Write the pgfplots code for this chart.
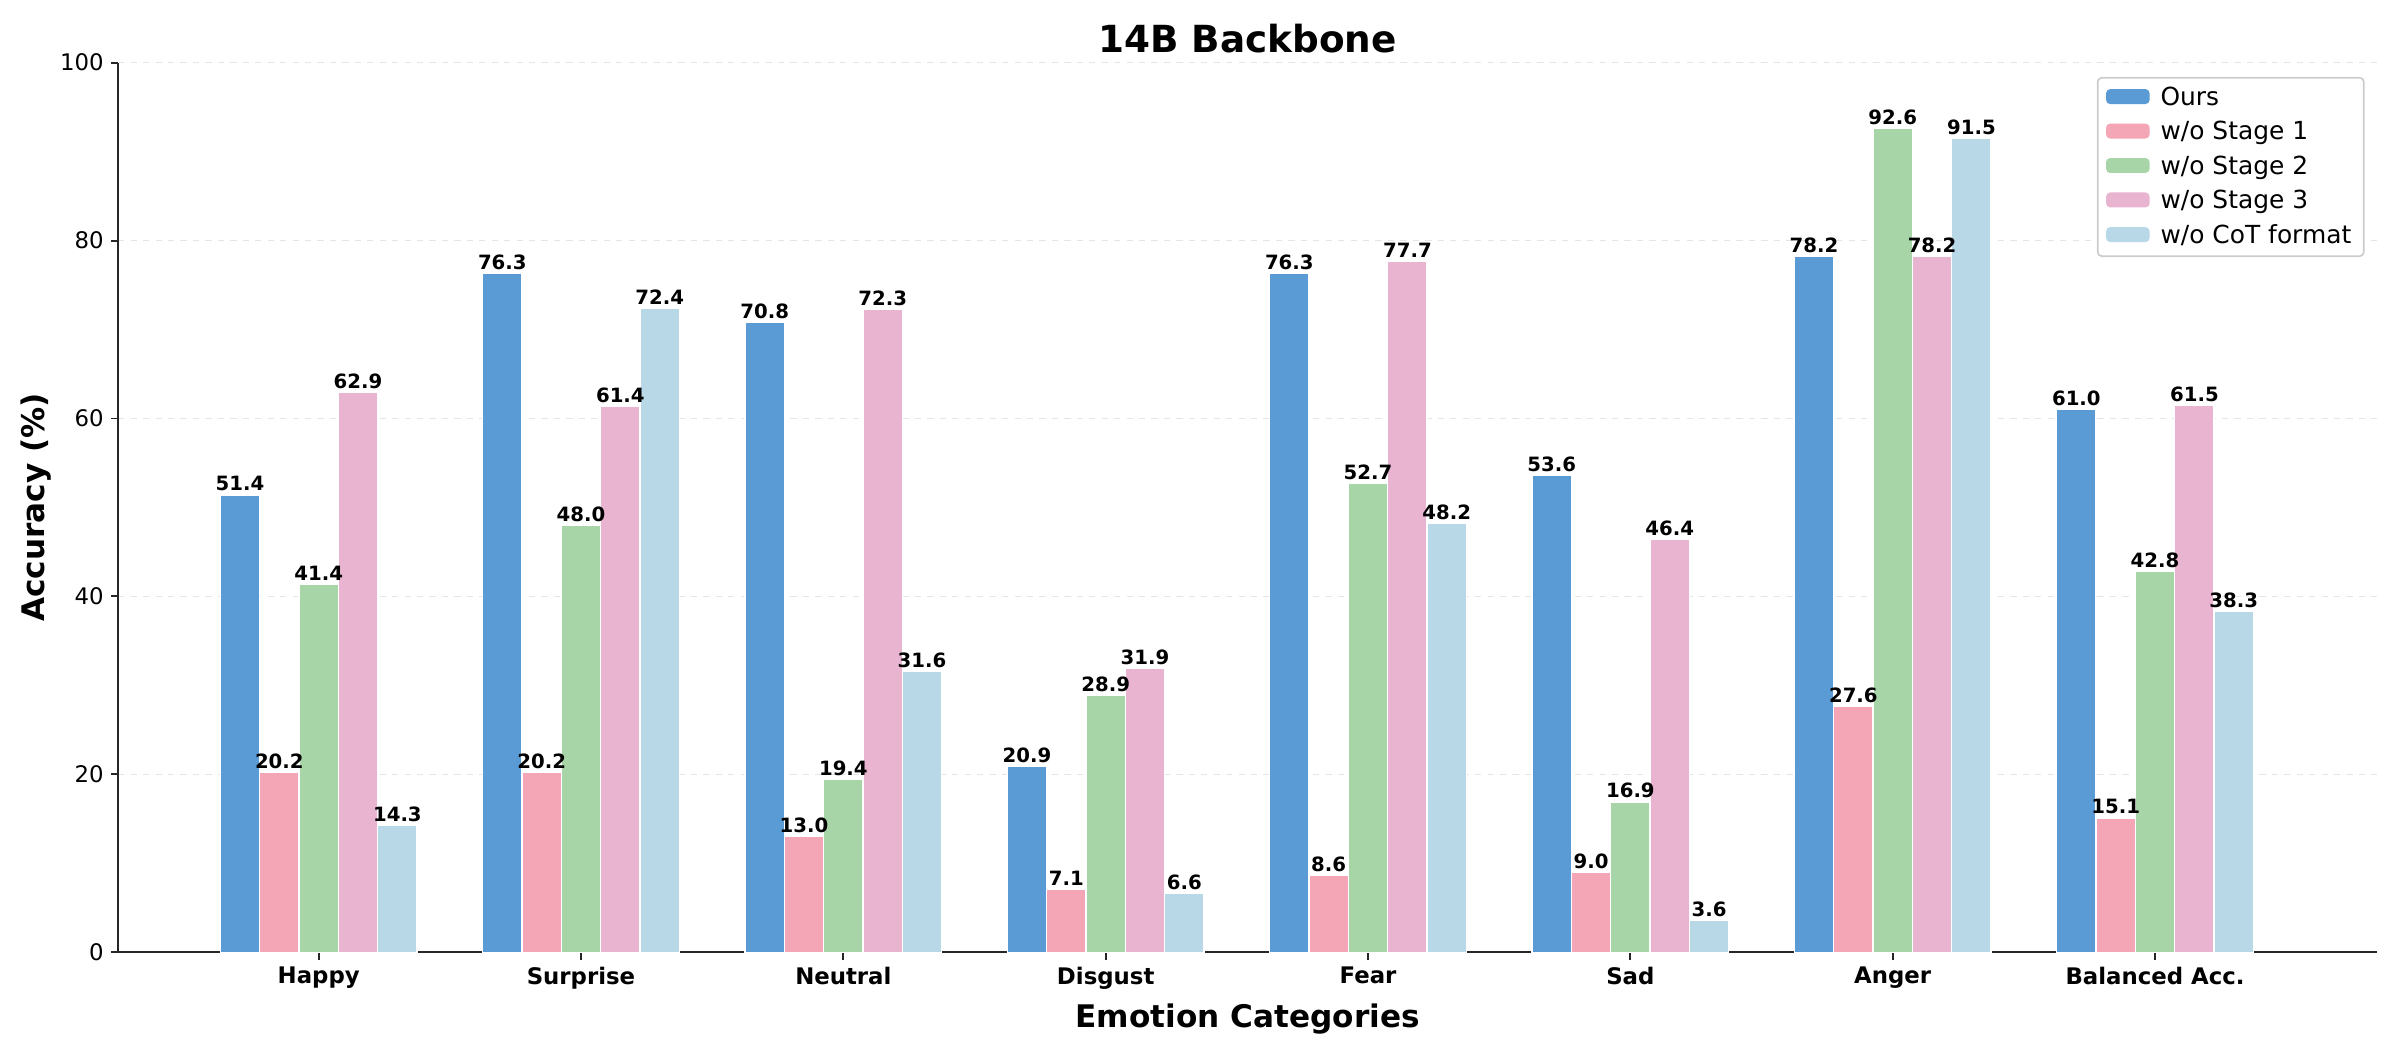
\documentclass[border=0pt]{standalone}
\usepackage{fontspec}
\setmainfont{DejaVu Sans}
\setsansfont{DejaVu Sans}
\usepackage{pgfplots}
\pgfplotsset{compat=1.18}
\definecolor{cOurs}{HTML}{5B9BD5}
\definecolor{cS1}{HTML}{F4A6B7}
\definecolor{cS2}{HTML}{A8D5A8}
\definecolor{cS3}{HTML}{E8B4D0}
\definecolor{cCoT}{HTML}{B8D8E8}
\definecolor{spine}{HTML}{262626}
\begin{document}
\begin{tikzpicture}
\begin{axis}[
  scale only axis,
  width=1088.7pt, height=428.8pt,
  xmin=-0.764, xmax=7.846,
  ymin=0, ymax=100,
  axis lines*=left,
  axis line style={spine, line width=0.9pt},
  xtick={0,1,2,3,4,5,6,7},
  xticklabels={Happy,Surprise,Neutral,Disgust,Fear,Sad,Anger,Balanced Acc.},
  xticklabel style={font=\fontsize{11}{13}\selectfont\bfseries},
  ytick={0,20,40,60,80,100},
  yticklabel style={font=\fontsize{11}{13}\selectfont},
  /pgf/number format/assume math mode=true,
  tick align=outside,
  major tick length=3.5pt,
  tick style={spine, line width=0.9pt},
  ymajorgrids,
  grid style={dashed, gray!20, line width=0.5pt},
  xlabel={Emotion Categories},
  ylabel={Accuracy (\%)},
  xlabel style={font=\fontsize{15}{18}\selectfont\bfseries},
  every axis y label/.style={at={(axis description cs:-0.0435,0.5)}, rotate=90, anchor=north, inner sep=0pt, font=\fontsize{15}{18}\selectfont\bfseries},
  every axis title/.style={at={(axis description cs:0.5,1)}, anchor=base, yshift=4.7pt, inner sep=0pt, font=\fontsize{18}{22}\selectfont\bfseries},
  title={14B Backbone},
  ybar,
  bar width=0.15,
  every axis plot/.append style={draw=white, line width=0.6pt},
  nodes near coords={\pgfmathprintnumber[fixed,fixed zerofill,precision=1]{\pgfplotspointmeta}},
  every node near coord/.append style={font=\fontsize{9.5}{11}\selectfont\bfseries, text=black, inner sep=1.5pt},
  legend style={at={(axis description cs:0.9945,0.984)}, anchor=north east, font=\fontsize{12}{14}\selectfont,
    draw=gray!40, rounded corners=2pt, line width=0.8pt, row sep=2.2pt, inner xsep=4pt, inner ysep=2.5pt},
  legend cell align=left,
  legend image code/.code={\fill[#1, draw=none] (0pt,-3.0pt) rectangle (21pt,4.2pt); \path (21pt,0pt) -- (24pt,0pt);},
]
\addplot[fill=cOurs, bar shift=-0.3] coordinates {(0,51.4)(1,76.3)(2,70.8)(3,20.9)(4,76.3)(5,53.6)(6,78.2)(7,61.0)};
\addplot[fill=cS1, bar shift=-0.15] coordinates {(0,20.2)(1,20.2)(2,13.0)(3,7.1)(4,8.6)(5,9.0)(6,27.6)(7,15.1)};
\addplot[fill=cS2, bar shift=0] coordinates {(0,41.4)(1,48.0)(2,19.4)(3,28.9)(4,52.7)(5,16.9)(6,92.6)(7,42.8)};
\addplot[fill=cS3, bar shift=0.15] coordinates {(0,62.9)(1,61.4)(2,72.3)(3,31.9)(4,77.7)(5,46.4)(6,78.2)(7,61.5)};
\addplot[fill=cCoT, bar shift=0.3] coordinates {(0,14.3)(1,72.4)(2,31.6)(3,6.6)(4,48.2)(5,3.6)(6,91.5)(7,38.3)};
\legend{Ours, w/o Stage 1, w/o Stage 2, w/o Stage 3, w/o CoT format}
\end{axis}
\pgfresetboundingbox
\path[use as bounding box] ([xshift=-57.0pt,yshift=-46.9pt]current axis.south west) rectangle ([xshift=11.1pt,yshift=30.2pt]current axis.north east);
\end{tikzpicture}
\end{document}
